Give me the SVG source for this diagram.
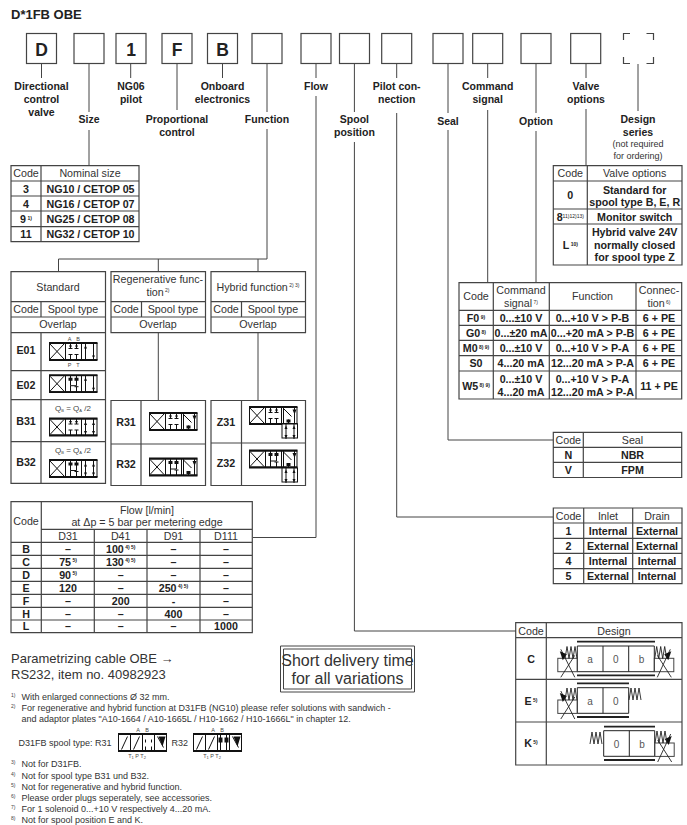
<svg xmlns="http://www.w3.org/2000/svg" xmlns:xlink="http://www.w3.org/1999/xlink" width="687" height="825" viewBox="0 0 687 825">
<style>
text{font-family:"Liberation Sans",Arial,sans-serif;fill:#222}
.lb{font-weight:700;font-size:10.5px;text-anchor:middle}
.big{font-weight:700;font-size:17.5px;text-anchor:middle;fill:#222}
.b{font-weight:700;font-size:10.7px;text-anchor:middle}
.r{font-size:10.7px;text-anchor:middle;fill:#333}
.f{font-size:9px;fill:#333}
.n{font-size:5px;fill:#444}
.t{font-size:5.5px;text-anchor:middle;fill:#444}
.box{fill:#fff;stroke:#444;stroke-width:1.2}
.tb{fill:none;stroke:#444;stroke-width:1.2}
.cn{fill:none;stroke:#444;stroke-width:1}
.ln{fill:none;stroke:#111;stroke-width:1}
.thick{fill:none;stroke:#111;stroke-width:1.8}
.sp{fill:none;stroke:#222;stroke-width:.9}
.v{font-size:10px;text-anchor:middle;fill:#555}
</style>
<defs>
<g id="cX"><path class="ln" stroke-width="1.4" d="M1 1.5L15 16.5M15 1.5L1 16.5"/></g>
<g id="cE"><path class="ln" d="M5 1V6M3 6H7M11 1V6M9 6H13M5 12V17M3 12H7M11 12V17M9 12H13"/><path d="M3.5 3L6.5 3L5 6zM9.5 3L12.5 3L11 6z" fill="#111"/></g>
<g id="cH"><path class="ln" stroke-width="1.3" d="M5 1V11H11V1M5 11V17M9 12H13M11 12V17"/><path d="M3 3H7V6H3zM9 3H13V6H9z" fill="#111"/></g>
<g id="cP"><path class="ln" d="M4 1V17M12 1V17"/><path d="M2.5 6L5.5 6L4 2.500zM10.500 13L13.500 13L12 16z" fill="#111"/></g>
<g id="cD"><path class="ln" d="M4 1V17M12 1V17"/><path d="M2.500 7L5.500 7L4 3.500zM2.500 13L5.500 13L4 16.500zM10.500 7L13.500 7L12 3.500zM10.500 13L13.500 13L12 16.500z" fill="#111"/></g>
<g id="cN"><path class="ln" d="M2 1V17M2 2L10 10M13 1V17M7 17V13"/><path d="M11 3L15 3L13 8zM5 13H9V16H5z" fill="#111"/></g>
<g id="frame"><rect x=".5" y="1" width="47.500" height="16" fill="#fff" stroke="#111" stroke-width="1"/><path class="ln" d="M16.500 1V17M32.500 1V17"/><path class="thick" d="M0 .5H48.500M0 17.500H48.500"/></g>
<g id="s1"><use xlink:href="#frame"/><use xlink:href="#cX"/><use xlink:href="#cE" x="16.500"/><use xlink:href="#cP" x="32.500"/></g>
<g id="s2"><use xlink:href="#frame"/><use xlink:href="#cX"/><use xlink:href="#cH" x="16.500"/><use xlink:href="#cP" x="32.500"/></g>
<g id="s3"><use xlink:href="#frame"/><use xlink:href="#cX"/><use xlink:href="#cE" x="16.500"/><use xlink:href="#cD" x="32.500"/></g>
<g id="s4"><use xlink:href="#frame"/><use xlink:href="#cX"/><use xlink:href="#cH" x="16.500"/><use xlink:href="#cD" x="32.500"/></g>
<g id="s5"><use xlink:href="#frame"/><use xlink:href="#cX"/><use xlink:href="#cE" x="16.500"/><use xlink:href="#cN" x="32.500"/></g>
<g id="s6"><use xlink:href="#frame"/><use xlink:href="#cX"/><use xlink:href="#cH" x="16.500"/><use xlink:href="#cN" x="32.500"/></g>
<g id="ext"><rect x="0" y="0" width="15.500" height="14" fill="#fff" stroke="#111"/><use xlink:href="#cD" y="-2"/></g>
<g id="spring"><path class="sp" d="M0 12L2 0L4 12L6 0L8 12L10 0L12 12"/></g>
<g id="solL"><rect x="0" y="0" width="19.500" height="13.400" fill="none" stroke="#444"/><path class="sp" d="M3 -9L17 19M17 -3L3 19"/><path d="M2 -7L9 -4L5 2z" fill="#111"/></g>
<g id="solR"><rect x="0" y="0" width="19.500" height="13.400" fill="none" stroke="#444"/><path class="sp" d="M3 19L16 -9M3 -3L17 19"/><path d="M17 -7L10 -4L14 2z" fill="#111"/></g>
<g id="foot"><rect x="0" y="1" width="48" height="16" fill="none" stroke="#111"/><path class="ln" d="M12 1V17M24 1V17M36 1V17"/><path class="thick" d="M-.5 .500H48.500M-.5 17.500H48.500"/></g>
</defs>
<rect width="687" height="825" fill="#fff"/>
<text x="11" y="18.500" font-weight="700" font-size="13">D*1FB OBE</text>

<g id="connectors">
<path class="cn" d="M41.500 64V78M89 64V112M89 130V165M130.700 64V78M177 64V110M222.500 64V78M267 64V112M267 129V259H58.500V272M158.300 259V272M258 259V272M316 64V78M316 96V537.500H253M354.400 64V112M354.400 142V631H516M396.700 64V78M396.700 113V517H553M448 64V113M448 130V440H553M487.700 64V78M487.700 110V282.500M536 64V113M536 131V282.500M586 64V78M586 109V165.500M638 64V111M158.300 332.700V400.500M258 332.700V400.500"/>
</g>

<g id="box-d"><rect class="box" x="26.500" y="33.500" width="30" height="30"/><text class="big" x="41.500" y="56">D</text></g>
<g id="box-size"><rect class="box" x="74" y="33.500" width="30" height="30"/></g>
<g id="box-1"><rect class="box" x="116" y="33.500" width="30" height="30"/><text class="big" x="131" y="56">1</text></g>
<g id="box-f"><rect class="box" x="162" y="33.500" width="30" height="30"/><text class="big" x="177" y="56">F</text></g>
<g id="box-b"><rect class="box" x="207.500" y="33.500" width="30" height="30"/><text class="big" x="222.500" y="56">B</text></g>
<g id="box-function"><rect class="box" x="252" y="33.500" width="30" height="30"/></g>
<g id="box-flow"><rect class="box" x="301" y="33.500" width="30" height="30"/></g>
<g id="box-spool"><rect class="box" x="339.500" y="33.500" width="30" height="30"/></g>
<g id="box-pilot"><rect class="box" x="381.700" y="33.500" width="30" height="30"/></g>
<g id="box-seal"><rect class="box" x="433" y="33.500" width="30" height="30"/></g>
<g id="box-command"><rect class="box" x="472.700" y="33.500" width="30" height="30"/></g>
<g id="box-option"><rect class="box" x="521" y="33.500" width="30" height="30"/></g>
<g id="box-valve"><rect class="box" x="570.700" y="33.500" width="30" height="30"/></g>
<g id="box-design"><path class="tb" d="M623.500 40V33.500H630M646.500 33.500H653.500V40M623.500 57V63.500H630M646.500 63.500H653.500V57"/></g>

<g id="labels">
<text class="lb" x="41.500" y="90">Directional</text><text class="lb" x="41.500" y="103">control</text><text class="lb" x="41.500" y="116">valve</text>
<text class="lb" x="89" y="123">Size</text>
<text class="lb" x="131" y="90">NG06</text><text class="lb" x="131" y="103">pilot</text>
<text class="lb" x="177" y="123">Proportional</text><text class="lb" x="177" y="136">control</text>
<text class="lb" x="222.500" y="90">Onboard</text><text class="lb" x="222.500" y="103">electronics</text>
<text class="lb" x="267" y="123">Function</text>
<text class="lb" x="316" y="90">Flow</text>
<text class="lb" x="354.400" y="123">Spool</text><text class="lb" x="354.400" y="136">position</text>
<text class="lb" x="396.700" y="90">Pilot con-</text><text class="lb" x="396.700" y="103">nection</text>
<text class="lb" x="448" y="125">Seal</text>
<text class="lb" x="487.700" y="90">Command</text><text class="lb" x="487.700" y="103">signal</text>
<text class="lb" x="536" y="125">Option</text>
<text class="lb" x="586" y="90">Valve</text><text class="lb" x="586" y="103">options</text>
<text class="lb" x="638" y="123">Design</text><text class="lb" x="638" y="136">series</text>
<text class="r" style="font-size:9px" x="638" y="147">(not required</text><text class="r" style="font-size:9px" x="638" y="159">for ordering)</text>
</g>

<g id="table-size">
<path class="tb" d="M11 165.700H139V241.700H11ZM41 165.700V241.700M11 181H139M11 196H139M11 211H139M11 226.700H139"/>
<text class="r" x="26" y="177">Code</text><text class="r" x="90" y="177">Nominal size</text>
<text class="b" x="26" y="193">3</text><text class="b" x="90.500" y="193">NG10 / CETOP 05</text>
<text class="b" x="26" y="208">4</text><text class="b" x="90.500" y="208">NG16 / CETOP 07</text>
<text class="b" x="26" y="223">9<tspan font-size="5" dy="-3.500"> 1)</tspan></text><text class="b" x="90.500" y="223">NG25 / CETOP 08</text>
<text class="b" x="26" y="238">11</text><text class="b" x="90.500" y="238">NG32 / CETOP 10</text>
</g>

<g id="table-valve-options">
<path class="tb" d="M553.300 165.700H682V265H553.300ZM587.300 165.700V265M553.300 181H682M553.300 209H682M553.300 224H682"/>
<text class="r" x="570.300" y="177">Code</text><text class="r" x="634.700" y="177">Valve options</text>
<text class="b" x="570.300" y="199">0</text><text class="b" x="634.700" y="193.500">Standard for</text><text class="b" x="634.700" y="206">spool type B, E, R</text>
<text class="b" x="570.300" y="221">8<tspan font-size="5" font-weight="400" dy="-3.500">11)12)13)</tspan></text><text class="b" x="634.700" y="221">Monitor switch</text>
<text class="b" x="570.300" y="249">L<tspan font-size="5" dy="-3.500"> 10)</tspan></text><text class="b" x="634.700" y="236">Hybrid valve 24V</text><text class="b" x="634.700" y="249">normally closed</text><text class="b" x="634.700" y="261">for spool type Z</text>
</g>

<g id="table-standard">
<path class="tb" d="M11 271.700H105.500V483.300H11ZM11 301.700H105.500M11 317H105.500M11 332.700H105.500M11 370.700H105.500M11 399.700H105.500M11 441.700H105.500M41 301.700V317M41 332.700V483.300"/>
<text class="r" x="58" y="290.700">Standard</text><text class="r" x="26" y="313">Code</text><text class="r" x="73" y="313">Spool type</text><text class="r" x="58" y="328">Overlap</text>
<text class="b" x="26" y="354.300">E01</text><text class="b" x="26" y="388.500">E02</text><text class="b" x="26" y="425">B31</text><text class="b" x="26" y="465.700">B32</text>
<text class="t" x="69.500" y="341">A</text><text class="t" x="78" y="341">B</text>
<use xlink:href="#s1" x="49" y="342.500"/>
<text class="t" x="69.500" y="366.500">P</text><text class="t" x="78" y="366.500">T</text>
<use xlink:href="#s2" x="49" y="374.700"/>
<text class="t" style="font-size:8px" x="73" y="410.700">Q<tspan font-size="4" dy="1">B</tspan><tspan dy="-1"> = Q</tspan><tspan font-size="4" dy="1">A</tspan><tspan dy="-1"> /2</tspan></text>
<use xlink:href="#s3" x="49" y="418"/>
<text class="t" style="font-size:8px" x="73" y="452.700">Q<tspan font-size="4" dy="1">B</tspan><tspan dy="-1"> = Q</tspan><tspan font-size="4" dy="1">A</tspan><tspan dy="-1"> /2</tspan></text>
<use xlink:href="#s4" x="49" y="459.500"/>
</g>

<g id="table-regenerative">
<path class="tb" d="M111 271.700H205.500V332.700H111ZM111 301.700H205.500M111 317H205.500M141.500 301.700V317"/>
<text class="r" x="158" y="283">Regenerative func-</text><text class="r" x="158" y="295.700">tion<tspan font-size="5" dy="-3.500"> 2)</tspan></text>
<text class="r" x="126" y="313">Code</text><text class="r" x="173" y="313">Spool type</text><text class="r" x="158" y="328">Overlap</text>
<path class="tb" d="M111 400.500H205.500V485.500H111ZM111 444H205.500M141 400.500V485.500"/>
<text class="b" x="126" y="425.700">R31</text><text class="b" x="126" y="468">R32</text>
<use xlink:href="#s5" x="149" y="412.500"/><use xlink:href="#s6" x="149" y="458"/>
</g>

<g id="table-hybrid">
<path class="tb" d="M211 271.700H305.500V332.700H211ZM211 301.700H305.500M211 317H305.500M241.500 301.700V317"/>
<text class="r" x="258" y="290.700">Hybrid function<tspan font-size="5" dy="-3.500"> 2) 3)</tspan></text>
<text class="r" x="226" y="313">Code</text><text class="r" x="273" y="313">Spool type</text><text class="r" x="258" y="328">Overlap</text>
<path class="tb" d="M211 400.500H305.500V485.500H211ZM211 443H305.500M241.500 400.500V485.500"/>
<text class="b" x="226" y="425.700">Z31</text><text class="b" x="226" y="467">Z32</text>
<use xlink:href="#s5" x="249" y="406.500"/><use xlink:href="#ext" x="282" y="424"/>
<use xlink:href="#s6" x="249" y="450"/><use xlink:href="#ext" x="282" y="468"/>
</g>

<g id="table-command">
<path class="tb" d="M459 282.700H681.700V399H459ZM493.300 282.700V399M549.300 282.700V399M636 282.700V399M459 310.300H681.700M459 325.300H681.700M459 340.300H681.700M459 355.700H681.700M459 371H681.700"/>
<text class="r" x="476" y="300">Code</text><text class="r" x="521" y="294">Command</text><text class="r" x="521" y="307">signal<tspan font-size="5" dy="-3.500"> 7)</tspan></text><text class="r" x="592.500" y="300">Function</text><text class="r" x="659" y="294">Connec-</text><text class="r" x="659" y="307">tion<tspan font-size="5" dy="-3.500"> 6)</tspan></text>
<text class="b" x="476" y="322">F0<tspan font-size="5" dy="-3.500"> 9)</tspan></text><text class="b" x="521" y="322">0...±10 V</text><text class="b" x="592.500" y="322">0...+10 V &gt; P-B</text><text class="b" x="659" y="322">6 + PE</text>
<text class="b" x="476" y="337">G0<tspan font-size="5" dy="-3.500"> 8)</tspan></text><text class="b" x="521" y="337">0...±20 mA</text><text class="b" x="592.500" y="337">0...+20 mA &gt; P-B</text><text class="b" x="659" y="337">6 + PE</text>
<text class="b" x="476" y="352">M0<tspan font-size="5" dy="-3.500"> 8) 9)</tspan></text><text class="b" x="521" y="352">0...±10 V</text><text class="b" x="592.500" y="352">0...+10 V &gt; P-A</text><text class="b" x="659" y="352">6 + PE</text>
<text class="b" x="476" y="367">S0</text><text class="b" x="521" y="367">4...20 mA</text><text class="b" x="592.500" y="367">12...20 mA &gt; P-A</text><text class="b" x="659" y="367">6 + PE</text>
<text class="b" x="476" y="390">W5<tspan font-size="5" dy="-3.500"> 8) 9)</tspan></text><text class="b" x="521" y="383">0...±10 V</text><text class="b" x="521" y="396">4...20 mA</text><text class="b" x="592.500" y="383">0...+10 V &gt; P-A</text><text class="b" x="592.500" y="396">12...20 mA &gt; P-A</text><text class="b" x="659" y="390">11 + PE</text>
</g>

<g id="table-seal">
<path class="tb" d="M553.300 432.300H681.700V477.500H553.300ZM583.300 432.300V477.500M553.300 447.300H681.700M553.300 462.300H681.700"/>
<text class="r" x="568.300" y="444">Code</text><text class="r" x="632.500" y="444">Seal</text>
<text class="b" x="568.300" y="459">N</text><text class="b" x="632.500" y="459">NBR</text>
<text class="b" x="568.300" y="474">V</text><text class="b" x="632.500" y="474">FPM</text>
</g>

<g id="table-pilot">
<path class="tb" d="M553.300 508H682V583.700H553.300ZM583.700 508V583.700M632.700 508V583.700M553.300 523H682M553.300 538.300H682M553.300 553.300H682M553.300 568.700H682"/>
<text class="r" x="568.500" y="520">Code</text><text class="r" x="608" y="520">Inlet</text><text class="r" x="657" y="520">Drain</text>
<text class="b" x="568.500" y="535">1</text><text class="b" x="608" y="535">Internal</text><text class="b" x="657" y="535">External</text>
<text class="b" x="568.500" y="550">2</text><text class="b" x="608" y="550">External</text><text class="b" x="657" y="550">External</text>
<text class="b" x="568.500" y="565">4</text><text class="b" x="608" y="565">Internal</text><text class="b" x="657" y="565">Internal</text>
<text class="b" x="568.500" y="580">5</text><text class="b" x="608" y="580">External</text><text class="b" x="657" y="580">Internal</text>
</g>

<g id="table-flow">
<path class="tb" d="M11 501.700H252.300V632.700H11ZM41.300 501.700V632.700M94.300 529.300V632.700M147 529.300V632.700M200 529.300V632.700M41.300 529.300H252.300M11 542.300H252.300M11 555.300H252.300M11 568.300H252.300M11 581.300H252.300M11 594.300H252.300M11 607.300H252.300M11 620H252.300"/>
<text class="r" x="26" y="525">Code</text><text class="r" x="147" y="513.500">Flow [l/min]</text><text class="r" x="147" y="525.700">at Δp = 5 bar per metering edge</text>
<text class="r" x="68" y="540">D31</text><text class="r" x="120.700" y="540">D41</text><text class="r" x="173.500" y="540">D91</text><text class="r" x="226" y="540">D111</text>
<text class="b" x="26" y="552.500">B</text><text class="b" x="68" y="552.500">–</text><text class="b" x="120.700" y="552.500">100<tspan font-size="5" dy="-3.500"> 4) 5)</tspan></text><text class="b" x="173.500" y="552.500">–</text><text class="b" x="226" y="552.500">–</text>
<text class="b" x="26" y="565.500">C</text><text class="b" x="68" y="565.500">75<tspan font-size="5" dy="-3.500"> 5)</tspan></text><text class="b" x="120.700" y="565.500">130<tspan font-size="5" dy="-3.500"> 4) 5)</tspan></text><text class="b" x="173.500" y="565.500">–</text><text class="b" x="226" y="565.500">–</text>
<text class="b" x="26" y="578.500">D</text><text class="b" x="68" y="578.500">90<tspan font-size="5" dy="-3.500"> 5)</tspan></text><text class="b" x="120.700" y="578.500">–</text><text class="b" x="173.500" y="578.500">–</text><text class="b" x="226" y="578.500">–</text>
<text class="b" x="26" y="591.500">E</text><text class="b" x="68" y="591.500">120</text><text class="b" x="120.700" y="591.500">–</text><text class="b" x="173.500" y="591.500">250<tspan font-size="5" dy="-3.500"> 4) 5)</tspan></text><text class="b" x="226" y="591.500">–</text>
<text class="b" x="26" y="604.500">F</text><text class="b" x="68" y="604.500">–</text><text class="b" x="120.700" y="604.500">200</text><text class="b" x="173.500" y="604.500">-</text><text class="b" x="226" y="604.500">–</text>
<text class="b" x="26" y="617.500">H</text><text class="b" x="68" y="617.500">–</text><text class="b" x="120.700" y="617.500">–</text><text class="b" x="173.500" y="617.500">400</text><text class="b" x="226" y="617.500">–</text>
<text class="b" x="26" y="630">L</text><text class="b" x="68" y="630">–</text><text class="b" x="120.700" y="630">–</text><text class="b" x="173.500" y="630">–</text><text class="b" x="226" y="630">1000</text>
</g>

<g id="table-design">
<path class="tb" d="M515.700 622.700H682V765H515.700ZM546.300 622.700V765M515.700 637.700H682M515.700 679.300H682M515.700 722H682"/>
<text class="r" x="531" y="634.500">Code</text><text class="r" x="614" y="634.500">Design</text>
<text class="b" x="531" y="663">C</text><text class="b" x="531" y="705">E<tspan font-size="5" dy="-3"> 5)</tspan></text><text class="b" x="531" y="747">K<tspan font-size="5" dy="-3"> 5)</tspan></text>
<path class="thick" style="stroke:#222" d="M577 641.700H655M577 675.300H655M577 683.300H629M577 717H629M604 726.700H655M604 760H655"/>
<path fill="none" stroke="#222" d="M577.300 646H654.300V671.700H577.300ZM603 646V671.700M628.700 646V671.700M577.300 687.700H628.700V713.300H577.300ZM603 687.700V713.300M603.700 730.700H654.700V756.300H603.700ZM629.300 730.700V756.300"/>
<use xlink:href="#solL" x="557.800" y="658.300"/><use xlink:href="#spring" x="565" y="646.500"/>
<use xlink:href="#solR" x="654.300" y="658.300"/><use xlink:href="#spring" x="654.700" y="646.500"/>
<use xlink:href="#solL" x="557.800" y="700"/><use xlink:href="#spring" x="565" y="688"/>
<use xlink:href="#spring" x="629" y="688"/>
<use xlink:href="#spring" x="590" y="732"/>
<use xlink:href="#solR" x="654.700" y="743"/><use xlink:href="#spring" x="655" y="731"/>
<text class="v" x="590" y="663">a</text><text class="v" x="615.800" y="663">0</text><text class="v" x="641.500" y="663">b</text>
<text class="v" x="590" y="705">a</text><text class="v" x="615.800" y="705">0</text>
<text class="v" x="616.500" y="748">0</text><text class="v" x="642" y="748">b</text>
</g>

<g id="cable-note">
<text x="11" y="663" font-size="13" fill="#333" style="fill:#333">Parametrizing cable OBE →</text>
<text x="11" y="679" font-size="13" style="fill:#333">RS232, item no. 40982923</text>
</g>

<g id="short-delivery">
<path fill="none" stroke="#444" d="M280.500 646H414.500V692H280.500ZM283.500 649H411.500V689H283.500Z"/>
<text x="347.500" y="666" font-size="16" text-anchor="middle" style="fill:#333">Short delivery time</text>
<text x="347.500" y="683.500" font-size="16" text-anchor="middle" style="fill:#333">for all variations</text>
</g>

<g id="footnotes">
<text class="n" x="11" y="697">1)</text><text class="f" x="21.500" y="700">With enlarged connections Ø 32 mm.</text>
<text class="n" x="11" y="708">2)</text><text class="f" x="21.500" y="711">For regenerative and hybrid function at D31FB (NG10) please refer solutions with sandwich -</text>
<text class="f" x="21.500" y="722">and adaptor plates  "A10-1664 / A10-1665L / H10-1662 / H10-1666L" in chapter 12.</text>
<text class="f" x="18.500" y="746">D31FB spool type: R31</text><text class="f" x="171.500" y="746">R32</text>
<text class="t" x="138" y="732">A</text><text class="t" x="147" y="732">B</text><text class="t" x="213" y="732">A</text><text class="t" x="222" y="732">B</text>
<g id="sym-r31-foot" transform="translate(118.500 733.500)"><use xlink:href="#foot"/><path class="ln" d="M3 16L9 3M15 16L21 3M27 9V6M33 9V6M27 17V13M33 17V13M39 3L45 14"/><path d="M40 3H47L44 13z" fill="#111"/></g>
<g id="sym-r32-foot" transform="translate(193.500 733.500)"><use xlink:href="#foot"/><path class="ln" d="M3 16L9 3M15 16L21 3M27 1V17M33 1V17M39 3L45 14"/><path d="M25 4H29V9H25zM31 4H35V9H31zM40 3H47L44 13z" fill="#111"/></g>
<text class="t" x="137" y="758">T<tspan font-size="4" dy="1">1</tspan><tspan dy="-1"> P T</tspan><tspan font-size="4" dy="1">2</tspan></text>
<text class="t" x="212" y="758">T<tspan font-size="4" dy="1">1</tspan><tspan dy="-1"> P T</tspan><tspan font-size="4" dy="1">2</tspan></text>
<text class="n" x="11" y="764">3)</text><text class="f" x="21.500" y="766.700">Not for D31FB.</text>
<text class="n" x="11" y="776">4)</text><text class="f" x="21.500" y="778.700">Not for spool type B31 und B32.</text>
<text class="n" x="11" y="787">5)</text><text class="f" x="21.500" y="789.700">Not for regenerative and hybrid function.</text>
<text class="n" x="11" y="798">6)</text><text class="f" x="21.500" y="800.700">Please order plugs seperately, see accessories.</text>
<text class="n" x="11" y="809">7)</text><text class="f" x="21.500" y="811.700">For 1 solenoid 0...+10 V respectively 4...20 mA.</text>
<text class="n" x="11" y="820">8)</text><text class="f" x="21.500" y="822.700">Not for spool position E and K.</text>
</g>
</svg>
